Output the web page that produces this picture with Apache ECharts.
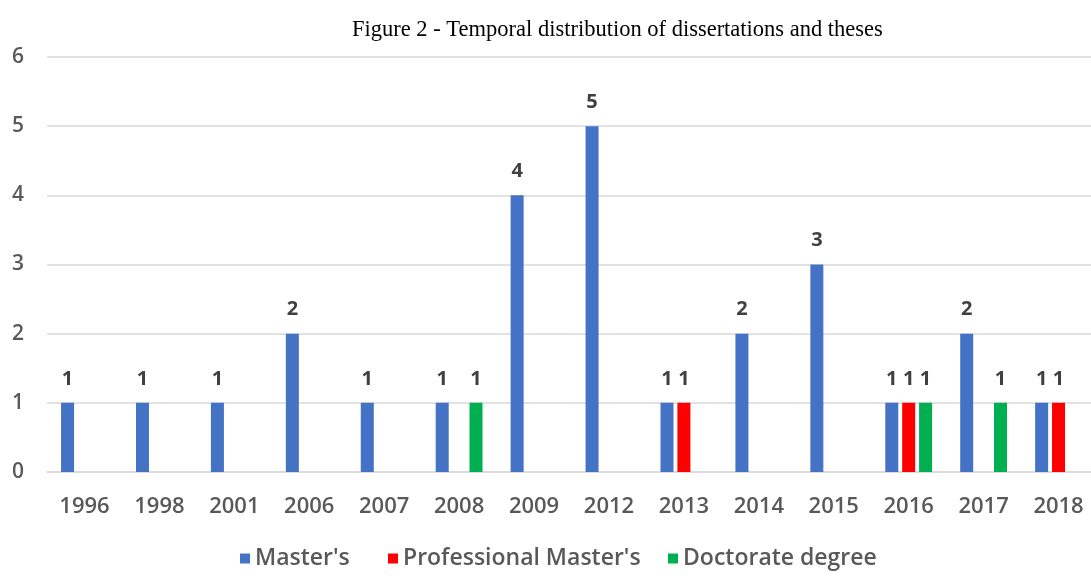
<!DOCTYPE html>
<html>
<head>
<meta charset="utf-8">
<script src="https://cdn.jsdelivr.net/npm/echarts@6/dist/echarts.min.js"></script>
<style>
  html, body { margin: 0; padding: 0; background: #fff; }
  #chart { width: 1091px; height: 576px; }
</style>
</head>
<body>
<div id="chart"></div>
<script>
// years on the x axis
var years = ['1996', '1998', '2001', '2006', '2007', '2008', '2009', '2012', '2013', '2014', '2015', '2016', '2017', '2018'];
// null = no bar for that year
var masters = [1, 1, 1, 2, 1, 1, 4, 5, 1, 2, 3, 1, 2, 1];
var professionalMasters = [null, null, null, null, null, null, null, null, 1, null, null, 1, null, 1];
var doctorate = [null, null, null, null, null, 1, null, null, null, null, null, 1, 1, null];
var yTicks = [0, 1, 2, 3, 4, 5, 6];
var seriesNames = ["Master's", "Professional Master's", 'Doctorate degree'];

var font = '"Open Sans", "Liberation Sans", sans-serif';

var barLabel = {
  show: true,
  position: 'top',
  distance: 14,
  color: '#404040',
  fontFamily: font,
  fontWeight: 'bold',
  fontSize: 20
};

// one legend per item so each sits where the original has it
var legendLeft = [235, 383, 663];
var legends = seriesNames.map(function (name, i) {
  return {
    data: [name],
    top: 542,
    left: legendLeft[i],
    itemWidth: 10,
    itemHeight: 10,
    icon: 'rect',
    textStyle: {
      fontFamily: font,
      fontWeight: 600,
      fontSize: 23,
      color: '#595959'
    }
  };
});

var chart = echarts.init(document.getElementById('chart'));
chart.setOption({
  animation: false,
  title: {
    text: 'Figure 2 - Temporal distribution of dissertations and theses',
    left: 347,
    top: 14,
    textStyle: {
      fontFamily: '"Liberation Serif", "Times New Roman", serif',
      fontWeight: 'normal',
      fontSize: 22.5,
      color: '#000'
    }
  },
  legend: legends,
  grid: {
    left: 47,
    width: 1049,
    top: 57,
    bottom: 104,
    outerBoundsMode: 'none'
  },
  xAxis: {
    type: 'category',
    data: years,
    axisTick: { show: false },
    axisLine: { lineStyle: { color: '#d9d9d9', width: 1.5 } },
    axisLabel: {
      margin: 24,
      color: '#595959',
      fontFamily: font,
      fontWeight: 600,
      fontSize: 22
    }
  },
  yAxis: {
    type: 'value',
    min: yTicks[0],
    max: yTicks[yTicks.length - 1],
    interval: 1,
    axisLine: { show: false },
    axisTick: { show: false },
    splitLine: { lineStyle: { color: '#d9d9d9', width: 1.5 } },
    axisLabel: {
      margin: 23,
      color: '#595959',
      fontFamily: font,
      fontWeight: 600,
      fontSize: 21
    }
  },
  series: [
    {
      name: seriesNames[0],
      type: 'bar',
      data: masters,
      barWidth: 13,
      barGap: '30%',
      itemStyle: { color: '#4472C4' },
      label: barLabel
    },
    {
      name: seriesNames[1],
      type: 'bar',
      data: professionalMasters,
      barWidth: 13,
      barGap: '30%',
      itemStyle: { color: '#FF0000' },
      label: barLabel
    },
    {
      name: seriesNames[2],
      type: 'bar',
      data: doctorate,
      barWidth: 13,
      barGap: '30%',
      itemStyle: { color: '#00B050' },
      label: barLabel
    }
  ]
});
</script>
</body>
</html>
